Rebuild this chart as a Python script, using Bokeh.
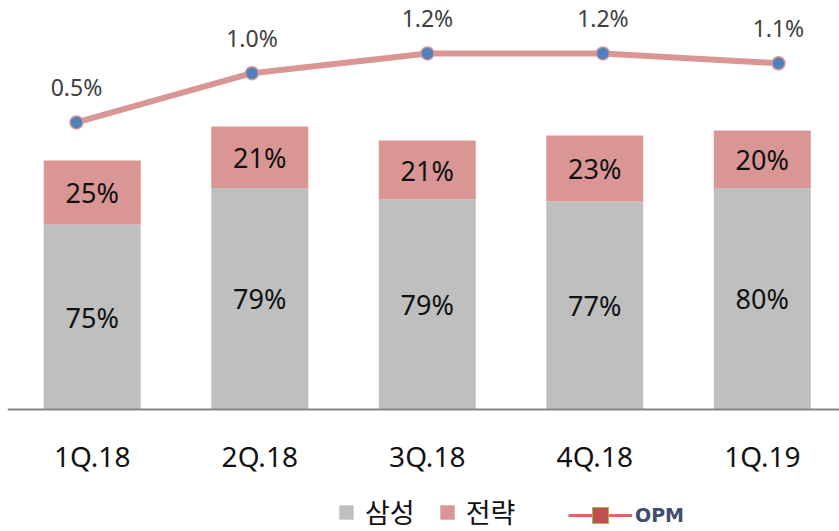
from bokeh.plotting import figure
from bokeh.models import (ColumnDataSource, Range1d, LabelSet, Span,
                          Legend, LegendItem)
from bokeh.core.properties import value
from bokeh.embed import file_html
from bokeh.resources import INLINE

# ---- data ----
quarters = ["1Q.18", "2Q.18", "3Q.18", "4Q.18", "1Q.19"]
samsung = [185, 221.5, 210, 208, 221.5]      # grey segment height
strategy = [64, 61.5, 59, 66, 57.5]          # pink segment height
samsung_share = ["75%", "79%", "79%", "77%", "80%"]
strategy_share = ["25%", "21%", "21%", "23%", "20%"]
opm = [0.5, 1.0, 1.2, 1.2, 1.1]
opm_labels = ["0.5%", "1.0%", "1.2%", "1.2%", "1.1%"]

GREY = "#BFBFBF"
PINK = "#D99694"
BLUE = "#4F81BD"
NUM_FONT = "Noto Sans"
KR_FONT = "Noto Sans CJK KR"

xs = list(range(len(quarters)))
tops = [a + b for a, b in zip(samsung, strategy)]
src = ColumnDataSource(dict(
    x=xs, s=samsung, t=tops,
    s_mid=[a / 2 for a in samsung],
    t_mid=[a + b / 2 for a, b in zip(samsung, strategy)],
    s_lab=samsung_share, t_lab=strategy_share,
    opm=opm, opm_lab=opm_labels,
    q=quarters, base=[0] * len(quarters),
))

p = figure(width=839, height=531, output_backend="svg", toolbar_location=None,
           x_range=Range1d(-0.506, 4.461), y_range=Range1d(-122, 409),
           x_axis_location=None, y_axis_location=None,
           min_border_left=7, min_border_right=0, min_border_top=0,
           min_border_bottom=0)
p.extra_x_ranges = {"opm_x": Range1d(-0.393, 4.348)}
p.extra_y_ranges = {"opm_y": Range1d(-3.650, 1.737)}
p.outline_line_color = None
p.xgrid.visible = False
p.ygrid.visible = False
p.background_fill_color = "white"
p.border_fill_color = "white"

r_s = p.vbar(x="x", bottom=0, top="s", width=0.579, source=src,
             fill_color=GREY, line_color=None)
r_t = p.vbar(x="x", bottom="s", top="t", width=0.579, source=src,
             fill_color=PINK, line_color=None)

# category baseline and category labels
p.add_layout(Span(location=0, dimension="width", line_color="#868686",
                  line_width=2))
p.add_layout(LabelSet(x="x", y="base", text="q", source=src, y_offset=-46,
                      text_align="center", text_baseline="middle",
                      text_font=value(NUM_FONT), text_font_size="28px",
                      text_color="#111111"))

for ycol, tcol in (("s_mid", "s_lab"), ("t_mid", "t_lab")):
    p.add_layout(LabelSet(x="x", y=ycol, text=tcol, source=src,
                          text_align="center", text_baseline="middle",
                          text_font=value(NUM_FONT), text_font_size="27px",
                          text_color="#111111"))

p.line(x="x", y="opm", source=src, x_range_name="opm_x",
       y_range_name="opm_y", line_width=6, line_color=PINK)
p.scatter(x="x", y="opm", source=src, x_range_name="opm_x",
          y_range_name="opm_y", marker="circle", size=13,
          fill_color=BLUE, line_color=PINK, line_width=1.5)
p.add_layout(LabelSet(x="x", y="opm", text="opm_lab", source=src,
                      x_range_name="opm_x", y_range_name="opm_y",
                      y_offset=35, text_align="center", text_baseline="middle",
                      text_font=value(NUM_FONT), text_font_size="23px",
                      text_color="#404040"))

# hidden renderers of the OPM series, used only for its legend key
k_line = p.line(x="x", y="opm", source=src, x_range_name="opm_x",
                y_range_name="opm_y", line_width=3, line_color="#E06666",
                visible=False)
k_sq = p.scatter(x="x", y="opm", source=src, x_range_name="opm_x",
                 y_range_name="opm_y", marker="square", size=14,
                 fill_color="#C0504D", line_color="#9BBB59", line_width=1,
                 visible=False)

leg1 = Legend(items=[LegendItem(label="삼성", renderers=[r_s]),
                     LegendItem(label="전략", renderers=[r_t])],
              orientation="horizontal", location=(330, 0),
              glyph_width=18, glyph_height=18, label_standoff=10, spacing=23,
              padding=0, margin=0, border_line_color=None,
              background_fill_alpha=0,
              label_text_font=KR_FONT, label_text_font_size="27px",
              label_text_color="#111111")
leg2 = Legend(items=[LegendItem(label="OPM", renderers=[k_line, k_sq])],
              orientation="horizontal", location=(561, -4),
              glyph_width=64, glyph_height=40, label_standoff=3,
              padding=0, margin=0, border_line_color=None,
              background_fill_alpha=0, inactive_fill_alpha=0,
              label_text_font="DejaVu Sans", label_text_font_style="bold",
              label_text_font_size="19px", label_text_color="#3F4F6B")
p.add_layout(leg1)
p.add_layout(leg2)

open("out.html", "w").write(file_html(p, INLINE))
